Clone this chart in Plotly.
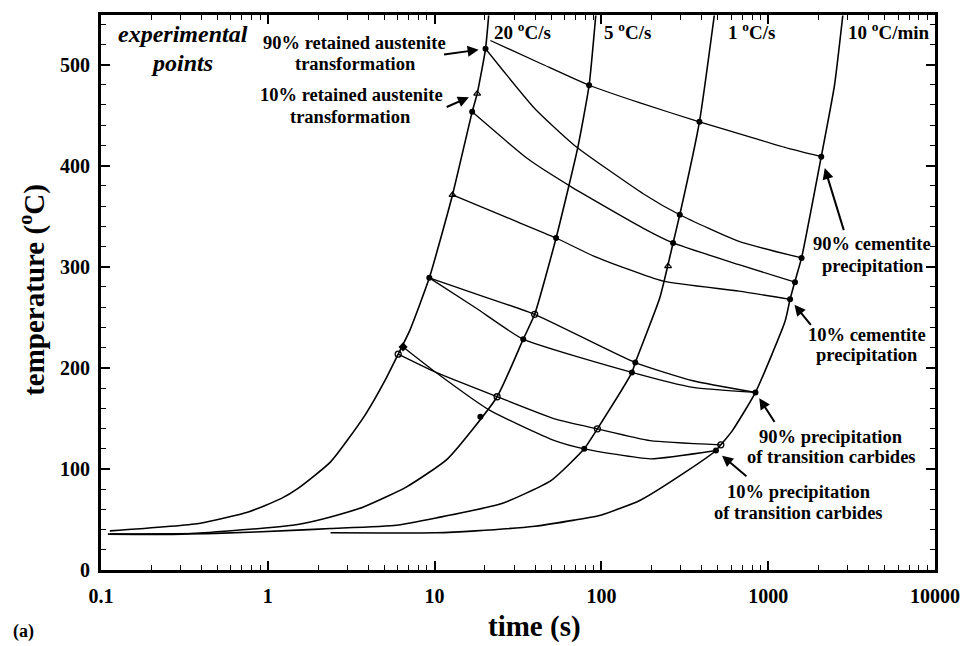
import numpy as np
import plotly.graph_objects as go

SERIF = "Liberation Serif, Times New Roman, serif"

# ---------------- heating curves (time s, temperature C) ----------------
rate_labels = ["20 <sup>o</sup>C/s", "5 <sup>o</sup>C/s", "1 <sup>o</sup>C/s", "10 <sup>o</sup>C/min"]

A_t = [0.113, 0.386, 0.764, 1.2, 1.51, 2.38, 3.75, 5.15, 6.05, 7.08, 9.3, 12.8, 16.8, 18.0, 20.2, 21.1]
A_T = [38.7, 46, 57.4, 70.6, 80.5, 107, 151, 190.4, 213.5, 236.5, 289, 371, 453.2, 471.2, 515.6, 548.5]

B_t = [0.11, 0.307, 0.959, 1.51, 2.38, 3.75, 6.76, 11.96, 23.7, 34, 39.8, 53.5, 72, 84.4, 92.5]
B_T = [35.5, 35.5, 41.5, 45, 52.5, 62.4, 82, 110, 171.4, 228.3, 252.9, 328.4, 417, 479.5, 548.5]

C_t = [0.113, 0.485, 1.51, 2.38, 5.9, 10.2, 25.3, 50.1, 78.9, 94.6, 152.4, 159.6, 224, 269, 295, 387, 475]
C_T = [35.5, 36.2, 39.4, 41, 44.3, 51.5, 65.7, 88.7, 119.9, 139.6, 195.4, 205.2, 269.3, 323.5, 351.4, 443.3, 548.5]

D_t = [2.38, 10.2, 17.6, 39.9, 68.8, 99.1, 171, 320, 486, 520, 610, 839, 1262, 1352, 1447, 1585, 2080, 2497, 2800]
D_T = [36.8, 36.8, 38.7, 43.3, 49.3, 54.2, 69, 97, 118.2, 123.8, 137.9, 175.7, 246, 267.7, 285.7, 308.7, 408.9, 479.5, 548.5]

# ---------------- iso-fraction lines ----------------
L1_t = [21.6, 43.6, 84.4, 170.6, 387, 839, 1321, 2080]
L1_T = [523.8, 500.8, 479.5, 462, 443.3, 426.6, 417, 408.9]

L2_t = [20.2, 39.8, 69, 179, 295, 668, 1585]
L2_T = [515.6, 456.5, 420, 372, 351.4, 325, 308.7]

L3_t = [16.8, 36, 66, 178.6, 269, 668, 1447]
L3_T = [453.2, 407, 379, 338, 323.5, 302, 284.7]

L4_t = [12.8, 27.7, 53.5, 90.6, 235, 668, 1352]
L4_T = [371, 348, 328.4, 310.3, 285.7, 275.9, 267.7]

L5a_t = [9.3, 19.3, 39.8, 159.6, 354, 839]
L5a_T = [289, 271, 252.9, 205.2, 187.2, 175.7]

L5b_t = [9.3, 17.6, 34, 152.4, 354, 839]
L5b_T = [289, 259.4, 228.3, 195.4, 180.6, 175.7]

L6a_t = [6.05, 10.2, 23.7, 52.4, 94.6, 196, 520]
L6a_T = [213.5, 195.4, 171.4, 149.5, 139.6, 128, 123.8]

L6b_t = [6.47, 10.2, 21.6, 52.4, 78.9, 196, 486]
L6b_T = [220.7, 195.4, 157.6, 128, 119.9, 110, 118.2]

# ---------------- experimental points ----------------
fill_t = [20.2, 16.8, 9.3, 84.4, 53.5, 34, 387, 295, 269, 159.6, 152.4, 78.9,
          2080, 1585, 1447, 1352, 839, 486, 18.8]
fill_T = [515.6, 453.2, 289, 479.5, 328.4, 228.3, 443.3, 351.4, 323.5, 205.2, 195.4, 119.9,
          408.9, 308.7, 284.7, 267.7, 175.7, 118.2, 151.7]
diam_t = [6.47]
diam_T = [220.7]
open_t = [39.8, 6.05, 23.7, 94.6, 520]
open_T = [252.9, 213.5, 171.4, 139.6, 123.8]
tri_t = [18.0, 12.8, 251]
tri_T = [471.2, 371, 300.5]

x_ticks = [0.1, 1, 10, 100, 1000, 10000]
x_ticktext = ["0.1", "1", "10", "100", "1000", "10000"]
y_ticks = [0, 100, 200, 300, 400, 500]

fig = go.Figure()

for t, T in [(A_t, A_T), (B_t, B_T), (C_t, C_T), (D_t, D_T)]:
    fig.add_trace(go.Scatter(x=t, y=T, mode="lines",
                             line=dict(color="black", width=1.6, shape="spline", smoothing=0.5),
                             hoverinfo="skip", showlegend=False))

for t, T in [(L1_t, L1_T), (L2_t, L2_T), (L3_t, L3_T), (L4_t, L4_T),
             (L5a_t, L5a_T), (L5b_t, L5b_T), (L6a_t, L6a_T), (L6b_t, L6b_T)]:
    fig.add_trace(go.Scatter(x=t, y=T, mode="lines",
                             line=dict(color="black", width=1.3, shape="spline", smoothing=0.5),
                             hoverinfo="skip", showlegend=False))

fig.add_trace(go.Scatter(x=fill_t, y=fill_T, mode="markers",
                         marker=dict(symbol="circle", size=6, color="black"), showlegend=False))
fig.add_trace(go.Scatter(x=diam_t, y=diam_T, mode="markers",
                         marker=dict(symbol="diamond", size=7, color="black"), showlegend=False))
fig.add_trace(go.Scatter(x=open_t, y=open_T, mode="markers",
                         marker=dict(symbol="circle-open", size=6, color="black", line=dict(width=1.3)),
                         showlegend=False))
fig.add_trace(go.Scatter(x=tri_t, y=tri_T, mode="markers",
                         marker=dict(symbol="triangle-up-open", size=6, color="black", line=dict(width=1.2)),
                         showlegend=False))

L, R, TOP, BOT = 101, 945, 13, 570
PW, PH = R - L, BOT - TOP


def px(x):
    return (x - L) / PW


def py(y):
    return (BOT - y) / PH


def txt(s, x, y, size, italic=False, xanchor="center", angle=0):
    s = "<b>" + s + "</b>"
    if italic:
        s = "<i>" + s + "</i>"
    return dict(text=s, x=px(x), y=py(y), xref="paper", yref="paper", showarrow=False,
                xanchor=xanchor, yanchor="middle", textangle=angle,
                font=dict(family=SERIF, size=size, color="black"))


LS = 18.5
ann = [
    txt("experimental", 184, 32, 24, italic=True),
    txt("points", 183, 61, 24, italic=True),
    txt("90% retained austenite", 358, 41, LS),
    txt("transformation", 359, 62, LS),
    txt("10% retained austenite", 354, 93, LS),
    txt("transformation", 353, 115, LS),
    txt("90% cementite", 881, 243, LS),
    txt("precipitation", 882, 265, LS),
    txt("10% cementite", 876, 334, LS),
    txt("precipitation", 876, 354, LS),
    txt("90% precipitation", 840, 437, LS),
    txt("of transition carbides", 840, 457, LS),
    txt("10% precipitation", 807, 492, LS),
    txt("of transition carbides", 807, 513, LS),
    txt("(a)", 23, 632, 18),
    txt("time (s)", 540, 627, 29),
    txt("temperature (<sup>o</sup>C)", 31, 289, 29, angle=-90),
]
for lab, x0 in zip(rate_labels, [497, 608, 733, 855]):
    ann.append(txt(lab, x0, 29, 19, xanchor="left"))


def arrow(t, T, ax, ay, standoff):
    return dict(x=np.log10(t), y=T, xref="x", yref="y", ax=ax, ay=ay, text="",
                showarrow=True, arrowhead=2, arrowsize=1.1, arrowwidth=2,
                arrowcolor="black", standoff=standoff)


ann += [
    arrow(L2_t[0], L2_T[0], -43, 6, 7),
    arrow(tri_t[0], tri_T[0], -32, 14, 9),
    arrow(L1_t[-1], L1_T[-1], 23, 75, 12),
    arrow(L4_t[-1], L4_T[-1], 22, 27, 7),
    arrow(L5a_t[-1], L5a_T[-1], 20, 31, 7),
    arrow(L6b_t[-1], L6b_T[-1], 32, 27, 8),
]

minor_x = [m * 10.0 ** e for e in range(-1, 4) for m in range(2, 10)]

fig.update_layout(
    width=972, height=646,
    margin=dict(l=L, r=972 - R, t=TOP, b=646 - BOT),
    paper_bgcolor="white", plot_bgcolor="white",
    showlegend=False,
    annotations=ann,
    xaxis=dict(type="log", range=[-1, 4],
               tickmode="array", tickvals=x_ticks,
               ticktext=["<b>" + s + "</b>" for s in x_ticktext],
               ticks="inside", ticklen=9, tickwidth=2, tickcolor="black",
               showline=True, linewidth=3, linecolor="black", mirror="allticks",
               showgrid=False, zeroline=False, ticklabelstandoff=6,
               tickfont=dict(family=SERIF, size=20, color="black"),
               minor=dict(tickmode="array", tickvals=minor_x, ticks="inside",
                          ticklen=5, tickwidth=1.3, tickcolor="black", showgrid=False)),
    yaxis=dict(range=[0, 549], tickmode="array", tickvals=y_ticks,
               ticktext=["<b>%d</b>" % v for v in y_ticks],
               ticks="inside", ticklen=9, tickwidth=2, tickcolor="black",
               showline=True, linewidth=3, linecolor="black", mirror="allticks",
               showgrid=False, zeroline=False, ticklabelstandoff=4,
               tickfont=dict(family=SERIF, size=20, color="black"),
               minor=dict(dtick=20, tick0=0, ticks="inside", ticklen=5, tickwidth=1.3,
                          tickcolor="black", showgrid=False)),
)

fig.write_html("out.html")
